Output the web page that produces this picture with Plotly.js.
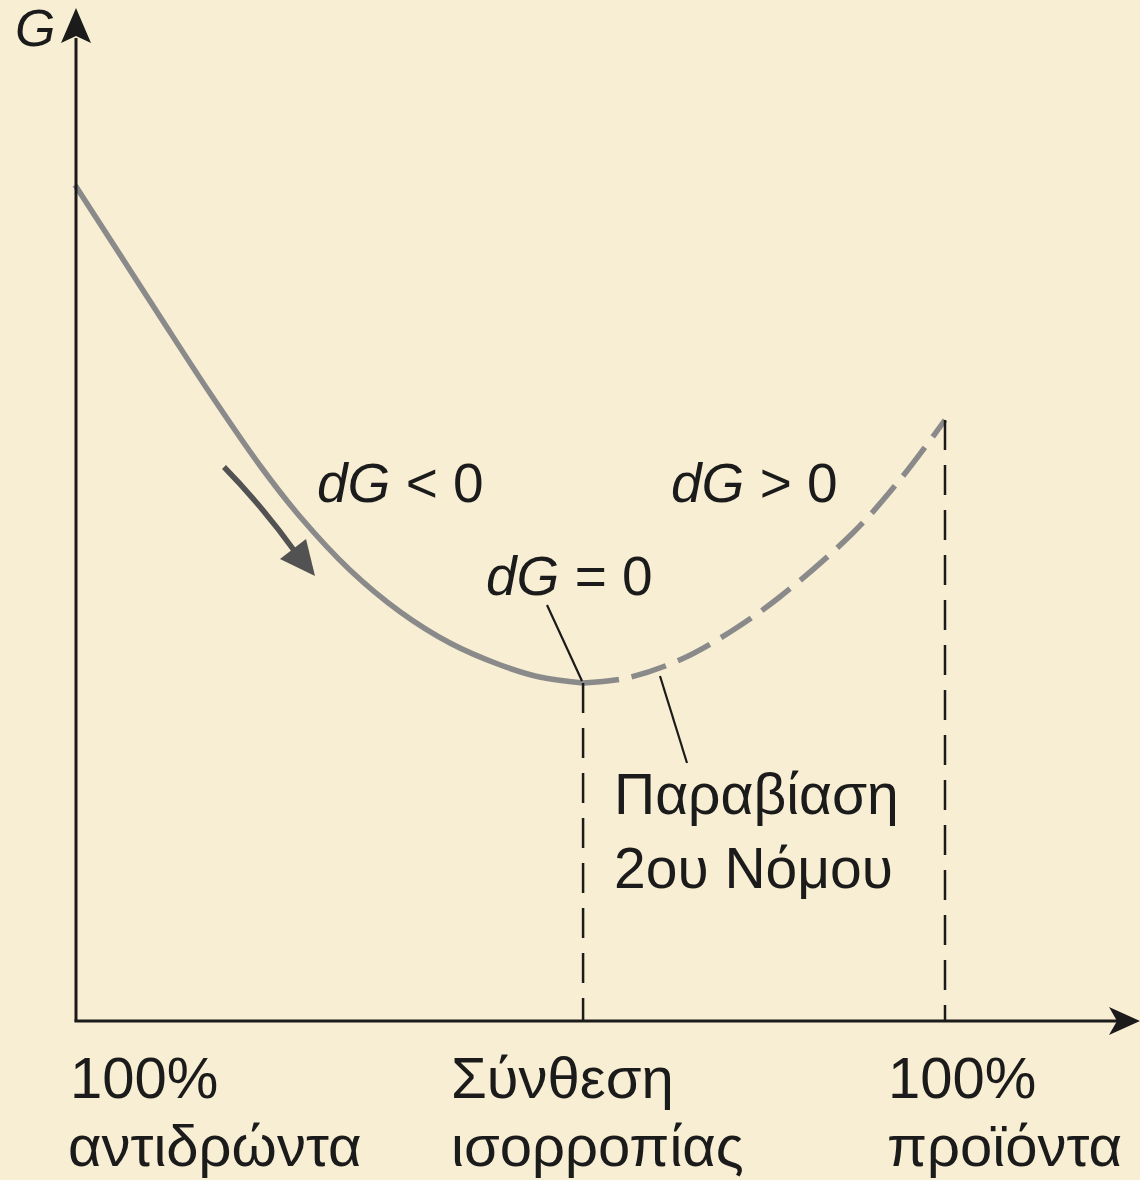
<!DOCTYPE html>
<html>
<head>
<meta charset="utf-8">
<script src="https://cdn.plot.ly/plotly-3.0.1.min.js"></script>
<style>
  html, body { margin: 0; padding: 0; background: #F8EED3; }
  #chart { width: 1140px; height: 1180px; }
</style>
</head>
<body>
<div id="chart"></div>
<script>
// Gibbs free energy G versus extent of reaction (0 = 100% reactants, 1 = 100% products)
// Spontaneous branch: from pure reactants down to the equilibrium minimum
const extentToEq = [0, 0.052, 0.098, 0.155, 0.213, 0.259, 0.316, 0.374, 0.431, 0.489, 0.534, 0.584];
const gToEq      = [8.35, 7.65, 7.03, 6.27, 5.54, 5.03, 4.50, 4.08, 3.77, 3.55, 3.43, 3.37];
// Forbidden branch (dG > 0): from the equilibrium minimum up to pure products
const extentPastEq = [0.584, 0.634, 0.695, 0.753, 0.810, 0.894, 0.948, 1.0];
const gPastEq      = [3.37, 3.42, 3.60, 3.88, 4.23, 4.87, 5.40, 6.00];

// Labels
const axisLabelG = 'G';
const startLabel = ['100%', 'αντιδρώντα'];
const eqLabel = ['Σύνθεση', 'ισορροπίας'];
const endLabel = ['100%', 'προϊόντα'];
const dgNeg = '<i>dG</i> &lt; 0';
const dgPos = '<i>dG</i> &gt; 0';
const dgZero = '<i>dG</i> = 0';
const violationLabel = 'Παραβίαση<br>2ου Νόμου';

const W = 1140, H = 1180;
// paper-coordinate helpers (pixel -> paper fraction)
const px = v => v / W;
const py = v => 1 - v / H;

const xEq = extentPastEq[0];
const gEq = gPastEq[0];
const xEnd = extentPastEq[extentPastEq.length - 1];
const gEnd = gPastEq[gPastEq.length - 1];

const FONT = 'Liberation Sans, Arial, Helvetica, sans-serif';
const INK = '#1b1b1b';
const CURVE = '#8a8a8a';

const traces = [
  {
    x: extentToEq, y: gToEq, type: 'scatter', mode: 'lines',
    line: { color: CURVE, width: 5.5, shape: 'spline', smoothing: 1 },
    hoverinfo: 'skip'
  },
  {
    x: extentPastEq, y: gPastEq, type: 'scatter', mode: 'lines',
    line: { color: CURVE, width: 5.5, shape: 'spline', smoothing: 1, dash: '36px,13px' },
    hoverinfo: 'skip'
  }
];

function triPath(pts) {
  return 'M ' + pts.map(p => px(p[0]) + ' ' + py(p[1])).join(' L ') + ' Z';
}

const shapes = [
  // vertical axis
  { type: 'line', xref: 'paper', yref: 'paper', x0: px(76), x1: px(76), y0: py(1021.5), y1: py(38),
    line: { color: INK, width: 3 } },
  // horizontal axis
  { type: 'line', xref: 'paper', yref: 'paper', x0: px(74.5), x1: px(1118), y0: py(1021), y1: py(1021),
    line: { color: INK, width: 3 } },
  // arrowheads
  { type: 'path', xref: 'paper', yref: 'paper', path: triPath([[76, 8], [91, 43], [76, 36], [61, 43]]),
    fillcolor: INK, line: { width: 0 } },
  { type: 'path', xref: 'paper', yref: 'paper', path: triPath([[1140, 1021], [1109, 1007], [1117, 1021], [1109, 1035]]),
    fillcolor: INK, line: { width: 0 } },
  // drop lines from the equilibrium point and the products end
  { type: 'line', xref: 'x', yref: 'y', x0: xEq, x1: xEq, y0: gEq, y1: 0,
    line: { color: INK, width: 2.5, dash: '30px,15px' } },
  { type: 'line', xref: 'x', yref: 'y', x0: xEnd, x1: xEnd, y0: gEnd, y1: 0,
    line: { color: INK, width: 2.5, dash: '30px,15px' } },
  // leader lines
  { type: 'line', xref: 'paper', yref: 'paper', x0: px(547), y0: py(605), x1: px(582), y1: py(681),
    line: { color: INK, width: 2.2 } },
  { type: 'line', xref: 'paper', yref: 'paper', x0: px(660), y0: py(676), x1: px(687), y1: py(763),
    line: { color: INK, width: 2.2 } },
  // direction-of-change arrow
  { type: 'path', xref: 'paper', yref: 'paper',
    path: 'M ' + px(224) + ' ' + py(467) + ' Q ' + px(263) + ' ' + py(507) + ' ' + px(296) + ' ' + py(553),
    line: { color: '#525252', width: 5.5 } },
  { type: 'path', xref: 'paper', yref: 'paper', path: triPath([[315, 576], [306, 539], [280, 559]]),
    fillcolor: '#525252', line: { width: 0 } }
];

function label(text, x, y, size, opts) {
  return Object.assign({
    text: text, xref: 'paper', yref: 'paper', x: px(x), y: py(y),
    xanchor: 'left', yanchor: 'middle', align: 'left', showarrow: false,
    font: { family: FONT, size: size, color: INK }
  }, opts || {});
}

const annotations = [
  label('<i>' + axisLabelG + '</i>', 35, 28, 52, { xanchor: 'center' }),
  label(dgNeg, 315, 483, 55),
  label(dgPos, 669, 483, 55),
  label(dgZero, 484, 576, 55),
  label(violationLabel, 612, 831, 57),
  label(startLabel[0], 68, 1077, 58),
  label(startLabel[1], 66, 1145, 58),
  label(eqLabel[0], 449, 1077, 58),
  label(eqLabel[1], 449, 1145, 58),
  label(endLabel[0], 886, 1077, 58),
  label(endLabel[1], 885, 1145, 58)
];

const layout = {
  width: W, height: H,
  margin: { l: 0, r: 0, t: 0, b: 0 },
  paper_bgcolor: '#F8EED3',
  plot_bgcolor: '#F8EED3',
  showlegend: false,
  xaxis: { range: [-75 / 870, 1065 / 870], visible: false, fixedrange: true },
  yaxis: { range: [-1.6, 10.2], visible: false, fixedrange: true },
  shapes: shapes,
  annotations: annotations
};

Plotly.newPlot('chart', traces, layout, { staticPlot: true, displayModeBar: false });
</script>
</body>
</html>
